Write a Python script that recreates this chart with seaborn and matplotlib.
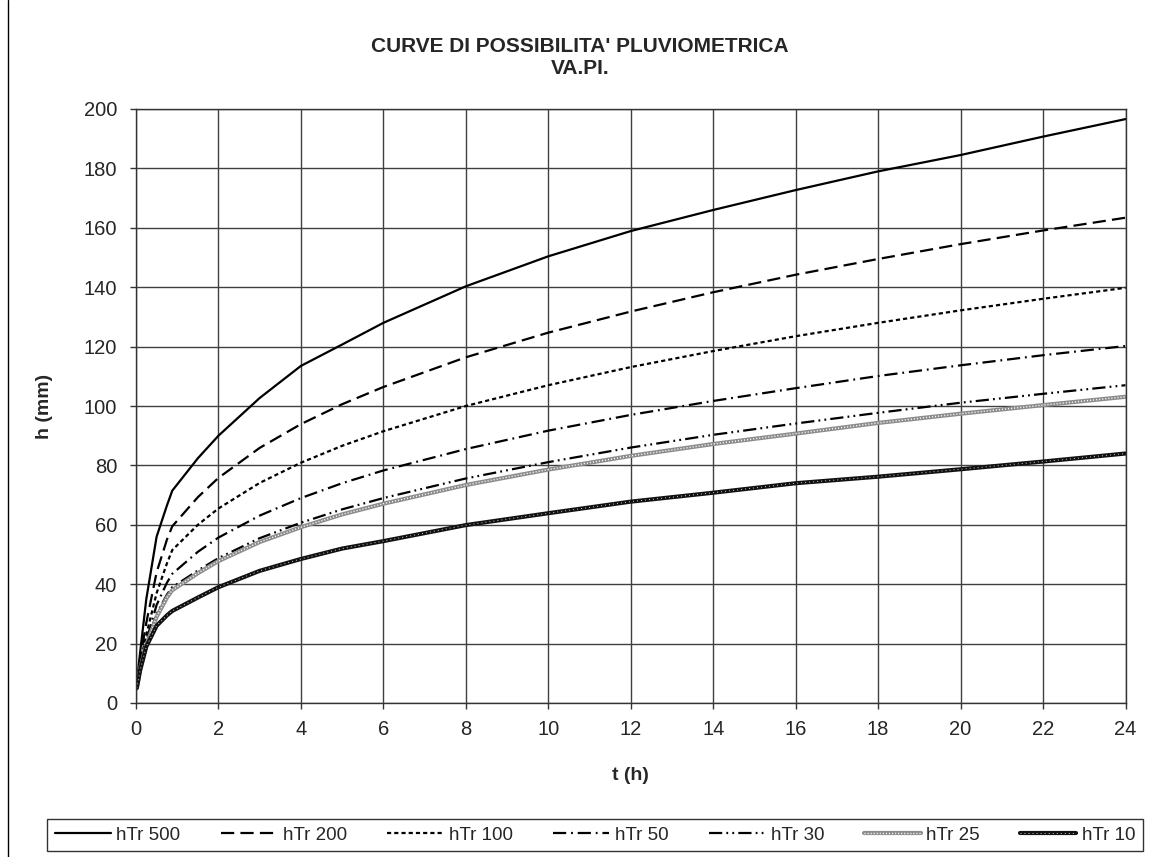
import numpy as np
import pandas as pd
import matplotlib
matplotlib.use("Agg")
import matplotlib.pyplot as plt
import seaborn as sns
from matplotlib.legend_handler import HandlerTuple

# ---- data ----
t_hours = [0.02, 0.1, 0.25, 0.5, 0.75, 0.88, 1.5, 2, 3, 4, 5, 6, 8, 10, 12, 14, 16, 18, 20, 22, 24]

h_tr500 = [7, 17, 35, 56, 66.5, 71.5, 82.4, 90, 102.7, 113.5, 120.7, 128, 140.3, 150.4, 158.9, 166, 172.7, 179, 184.5, 190.7, 196.6]
h_tr200 = [6.5, 15, 27, 44, 55, 59.5, 69.3, 75.8, 85.9, 93.9, 100.6, 106.4, 116.4, 124.7, 131.8, 138.3, 144.2, 149.5, 154.5, 159.1, 163.4]
h_tr100 = [6, 13.5, 23, 37, 47, 51.5, 60, 65.5, 74.1, 80.9, 86.6, 91.5, 100, 107, 113.1, 118.5, 123.5, 128, 132.2, 136.1, 139.8]
h_tr50 = [6, 12.5, 21, 33, 40.5, 43.5, 50.9, 55.7, 63.1, 69, 74, 78.3, 85.5, 91.7, 97, 101.7, 106, 110.1, 113.7, 117.1, 120.2]
h_tr30 = [5.5, 12, 20, 30, 36.5, 39, 44.6, 48.8, 55.5, 60.7, 65.2, 69, 75.6, 81.1, 86, 90.3, 94.1, 97.7, 101.1, 104.1, 107]
h_tr25 = [5.5, 11.5, 19.5, 29, 35.5, 38, 43.7, 47.8, 54.2, 59.2, 63.5, 67.1, 73.4, 78.6, 83.2, 87.2, 90.7, 94.3, 97.4, 100.3, 103.1]
h_tr10 = [5, 11, 19, 26, 29.5, 31, 35.5, 39, 44.5, 48.5, 52, 54.5, 59.9, 63.9, 67.8, 70.8, 74, 76.2, 78.7, 81.3, 84]

series_labels = ["hTr 500", "hTr 200", "hTr 100", "hTr 50", "hTr 30", "hTr 25", "hTr 10"]
series_values = [h_tr500, h_tr200, h_tr100, h_tr50, h_tr30, h_tr25, h_tr10]

x_ticks = list(range(0, 25, 2))
y_ticks = list(range(0, 201, 20))

title_lines = ["CURVE DI POSSIBILITA' PLUVIOMETRICA", "VA.PI."]

# ---- styling ----
sns.set_theme(style="white")
plt.rcParams["font.family"] = ["Liberation Sans", "DejaVu Sans"]
plt.rcParams["lines.scale_dashes"] = False

fig = plt.figure(figsize=(11.53, 8.57), dpi=100)
ax = fig.add_axes([136 / 1153, 1 - 703 / 857, (1125.5 - 136) / 1153, (703 - 109) / 857])
ax.set_facecolor("white")

df = pd.DataFrame({"t": t_hours})
for lab, vals in zip(series_labels, series_values):
    df[lab] = vals

styles = {
    "hTr 500": dict(linestyle="-", linewidth=1.6),
    "hTr 200": dict(linestyle=(0, (9.5, 4.5)), linewidth=1.6),
    "hTr 100": dict(linestyle=(0, (3, 2.2)), linewidth=1.6),
    "hTr 50": dict(linestyle=(0, (9.5, 3.5, 1.3, 3.5)), linewidth=1.6),
    "hTr 30": dict(linestyle=(0, (9.5, 3, 1.3, 3, 1.3, 3)), linewidth=1.6),
}

handles = []
for lab in series_labels:
    if lab in styles:
        sns.lineplot(data=df, x="t", y=lab, ax=ax, color="black", sort=False,
                     **styles[lab])
        handles.append(ax.get_lines()[-1])
    elif lab == "hTr 25":
        sns.lineplot(data=df, x="t", y=lab, ax=ax, color="#8c8c8c", sort=False,
                     linewidth=3.0)
        base = ax.get_lines()[-1]
        sns.lineplot(data=df, x="t", y=lab, ax=ax, color="white", sort=False,
                     linewidth=1.0, linestyle=(0, (0.8, 1.4)))
        over = ax.get_lines()[-1]
        handles.append((base, over))
    else:
        sns.lineplot(data=df, x="t", y=lab, ax=ax, color="#111111", sort=False,
                     linewidth=3.0)
        base = ax.get_lines()[-1]
        sns.lineplot(data=df, x="t", y=lab, ax=ax, color="white", sort=False,
                     linewidth=0.7, linestyle=(0, (0.7, 2.2)), alpha=0.8)
        over = ax.get_lines()[-1]
        handles.append((base, over))

ax.set_xlim(0, 24)
ax.set_ylim(0, 200)
ax.set_xticks(x_ticks)
ax.set_yticks(y_ticks)
ax.set_xticklabels([str(v) for v in x_ticks], fontsize=14.5)
ax.set_yticklabels([str(v) for v in y_ticks], fontsize=14.5)
ax.tick_params(axis="both", which="major", direction="out", length=4,
               width=1, color="#333333", bottom=True, left=True)
ax.tick_params(axis="y", pad=9.5)
ax.tick_params(axis="x", pad=8)
ax.grid(True, color="#404040", linewidth=1.0)
ax.set_axisbelow(True)
for s in ax.spines.values():
    s.set_color("#333333")
    s.set_linewidth(1.0)
ax.set_xlabel("")
ax.set_ylabel("")

fig.text(0.039, 1 - 406 / 857, "h (mm)", rotation=90, fontsize=14,
         fontweight="bold", ha="center", va="center")
fig.text(630 / 1153, 1 - 775 / 857, "t (h)", fontsize=14,
         fontweight="bold", ha="center", va="center")
fig.text(580 / 1153, 1 - 46 / 857, title_lines[0], fontsize=15,
         fontweight="bold", ha="center", va="center")
fig.text(580 / 1153, 1 - 69 / 857, title_lines[1], fontsize=15,
         fontweight="bold", ha="center", va="center")

# outer frame line on the left
fig.add_artist(plt.Line2D([8 / 1153, 8 / 1153], [0, 1], color="black",
                          linewidth=1.0, transform=fig.transFigure))

leg = fig.legend(handles, series_labels, loc="center", ncol=7,
                 bbox_to_anchor=(47 / 1153, 1 - 852 / 857, (1143 - 47) / 1153, 34 / 857),
                 mode="expand", fontsize=13.5, frameon=True, fancybox=False,
                 handlelength=3.0, handletextpad=0.3, borderaxespad=0,
                 handler_map={tuple: HandlerTuple(ndivide=1)})
leg.get_frame().set_edgecolor("black")
leg.get_frame().set_linewidth(1.0)

fig.savefig("out.png", dpi=100, facecolor="white")
